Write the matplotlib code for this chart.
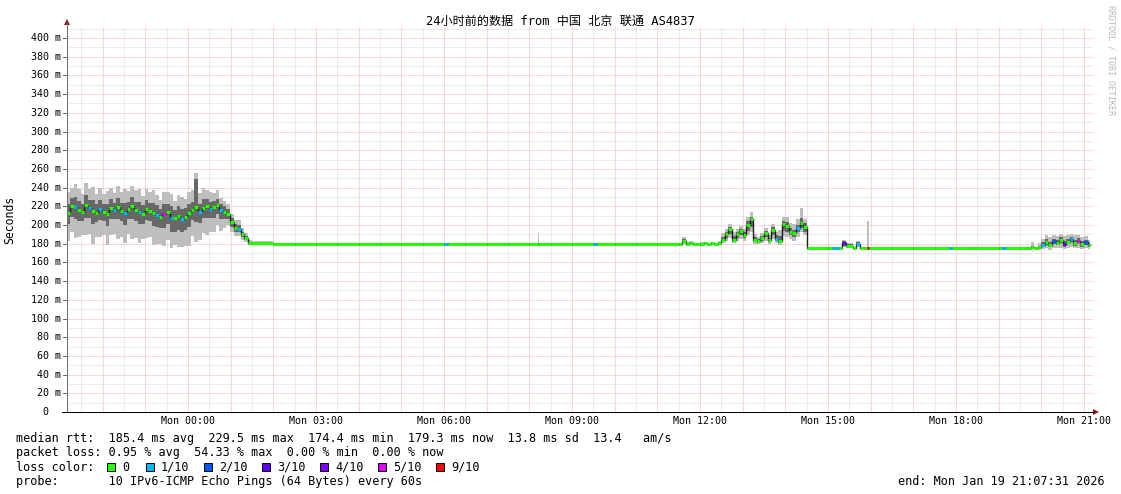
import matplotlib
matplotlib.use("Agg")
import matplotlib.pyplot as plt
import numpy as np
from matplotlib.patches import Rectangle, Polygon

# ---- data ----
# minutes relative to Mon 00:00 (start of each rrd row), 5 min rows where the
# trace is busy, sparser where it is flat
minutes = [
    -171, -166, -161, -156, -151, -146, -141, -136, -131, -126,
    -121, -116, -111, -106, -101, -96, -91, -86, -81, -76,
    -71, -66, -61, -56, -51, -46, -41, -36, -31, -26,
    -21, -16, -11, -6, -1, 4, 9, 14, 19, 24,
    29, 34, 39, 44, 49,
    54, 59, 64, 69, 74, 79, 84,
    90, 120, 150, 180, 210, 240, 270, 300, 330, 360,
    365, 390, 420, 450, 480, 492, 494, 510, 540, 570,
    575, 600, 630, 660, 690, 695, 700, 705, 710,
    715, 720, 725, 730, 735, 740, 745, 750, 755, 760,
    765, 770, 775, 780, 785, 790, 795, 800, 805, 810,
    815, 820, 825, 830, 835, 840, 845, 850, 855, 860, 865,
    870, 900, 905, 915, 920, 925, 935, 940, 945, 950,
    955, 957, 990, 1020, 1050, 1070, 1075, 1100, 1140, 1145,
    1150, 1170, 1180, 1185, 1190,
    1195, 1200, 1205, 1210, 1215, 1220, 1225, 1230, 1235, 1240,
    1245, 1250, 1255, 1260, 1265,
]
end_minute = 1268

# median rtt in ms
median_ms = [
    213, 220, 219, 216, 214, 221, 218, 215, 213, 217,
    214, 212, 218, 216, 219, 215, 213, 217, 220, 216,
    214, 212, 217, 215, 213, 211, 209, 212, 214, 208,
    207, 210, 206, 209, 213, 216, 219, 214, 218, 220,
    217, 219, 221, 216, 214,
    212, 203, 197, 196, 190, 186, 181,
    181, 180, 180, 180, 180, 180, 180, 180, 180, 180,
    180, 180, 180, 180, 180, 180, 180, 180, 180, 180,
    180, 180, 180, 180, 180, 183, 180, 181, 180,
    180, 180, 181, 180, 181, 180, 181, 184, 190, 196,
    184, 190, 194, 189, 200, 206, 184, 183, 186, 191,
    184, 195, 185, 183, 201, 199, 193, 191, 197, 202, 198,
    175, 175, 175, 175, 181, 178, 175, 180, 175, 175,
    175, 175, 175, 175, 175, 175, 175, 175, 175, 175,
    175, 175, 175, 176, 175,
    176, 179, 182, 179, 183, 181, 184, 180, 182, 185,
    181, 183, 180, 182, 179,
]

# smoke: how far the slowest / faster pings reach above and below the median (ms)
smoke_top = [
    22, 20, 25, 23, 19, 24, 21, 26, 20, 23,
    19, 24, 22, 18, 23, 20, 25, 19, 22, 21,
    24, 19, 22, 20, 24, 21, 18, 23, 21, 25,
    19, 22, 24, 19, 22, 21, 37, 20, 22, 17,
    18, 15, 16, 13, 12,
    10, 9, 8, 9, 7, 5, 3,
    2, 1, 1, 1, 1, 1, 1, 1, 1, 1,
    1, 1, 1, 1, 1, 11, 1, 1, 1, 1,
    1, 1, 1, 1, 1, 4, 2, 2, 1,
    1, 2, 1, 1, 1, 1, 2, 7, 6, 5,
    8, 6, 5, 7, 9, 8, 6, 4, 5, 6,
    5, 6, 8, 12, 8, 10, 9, 10, 9, 16, 8,
    1, 1, 1, 1, 3, 3, 1, 3, 1, 1,
    29, 1, 1, 1, 1, 1, 1, 1, 1, 1,
    1, 1, 1, 6, 1,
    5, 6, 7, 8, 6, 7, 6, 8, 7, 5,
    8, 6, 7, 6, 5,
]
smoke_upper = [
    10, 9, 11, 10, 8, 11, 9, 12, 9, 10,
    8, 11, 10, 8, 10, 9, 11, 8, 10, 9,
    11, 9, 10, 9, 11, 10, 8, 11, 9, 12,
    9, 10, 11, 9, 10, 9, 30, 9, 10, 8,
    8, 7, 7, 6, 6,
    5, 5, 4, 4, 3, 2, 1,
    1, 1, 1, 1, 1, 1, 1, 1, 1, 1,
    1, 1, 1, 1, 1, 1, 1, 1, 1, 1,
    1, 1, 1, 1, 1, 2, 1, 1, 1,
    1, 1, 1, 1, 1, 1, 1, 3, 3, 2,
    4, 3, 2, 3, 4, 3, 3, 2, 2, 3,
    2, 3, 4, 5, 3, 4, 4, 4, 3, 6, 4,
    1, 1, 1, 1, 2, 2, 1, 2, 1, 1,
    1, 1, 1, 1, 1, 1, 1, 1, 1, 1,
    1, 1, 1, 2, 1,
    2, 3, 3, 3, 2, 3, 3, 3, 3, 2,
    3, 3, 3, 2, 2,
]
smoke_lower = [
    12, 11, 13, 12, 10, 13, 11, 14, 10, 12,
    10, 13, 12, 10, 13, 11, 13, 11, 14, 12,
    13, 11, 12, 11, 14, 13, 12, 15, 13, 16,
    14, 15, 13, 14, 15, 11, 16, 12, 11, 12,
    10, 11, 9, 10, 8,
    6, 5, 5, 4, 3, 2, 1,
    1, 1, 1, 1, 1, 1, 1, 1, 1, 1,
    1, 1, 1, 1, 1, 1, 1, 1, 1, 1,
    1, 1, 1, 1, 1, 2, 1, 1, 1,
    1, 1, 1, 1, 1, 1, 1, 2, 4, 6,
    2, 4, 5, 3, 6, 8, 2, 2, 3, 4,
    2, 6, 2, 2, 7, 6, 4, 4, 5, 5, 5,
    1, 1, 1, 1, 3, 2, 1, 2, 1, 1,
    1, 1, 1, 1, 1, 1, 1, 1, 1, 1,
    1, 1, 1, 1, 1,
    2, 3, 3, 3, 3, 2, 3, 3, 2, 3,
    3, 2, 3, 3, 2,
]
smoke_bottom = [
    30, 27, 33, 29, 25, 32, 28, 35, 26, 30,
    25, 33, 29, 26, 34, 28, 32, 27, 35, 30,
    33, 27, 31, 28, 34, 31, 29, 34, 30, 33,
    28, 34, 29, 31, 35, 28, 37, 30, 27, 31,
    24, 26, 21, 22, 17,
    12, 10, 9, 8, 6, 4, 2,
    2, 2, 2, 2, 2, 2, 2, 2, 2, 2,
    2, 2, 2, 2, 2, 2, 2, 2, 2, 2,
    2, 2, 2, 2, 2, 3, 2, 2, 2,
    2, 2, 2, 2, 2, 2, 2, 3, 7, 10,
    3, 7, 9, 6, 11, 14, 4, 3, 5, 8,
    4, 10, 4, 4, 13, 12, 8, 8, 10, 10, 9,
    1, 1, 1, 1, 5, 3, 1, 3, 1, 1,
    1, 1, 1, 1, 1, 1, 1, 1, 1, 1,
    1, 1, 1, 1, 1,
    3, 5, 7, 6, 8, 6, 9, 6, 7, 9,
    6, 8, 6, 7, 5,
]
# lost pings out of 10 for each row
loss_tenths = [
    0, 0, 1, 0, 0, 0, 1, 0, 0, 1,
    0, 0, 0, 1, 0, 0, 1, 0, 0, 0,
    1, 0, 0, 0, 0, 1, 0, 5, 0, 1,
    0, 0, 1, 0, 0, 0, 0, 1, 0, 0,
    1, 0, 0, 1, 0,
    0, 0, 0, 1, 0, 0, 0,
    0, 0, 0, 0, 0, 0, 0, 0, 0, 1,
    0, 0, 0, 0, 0, 0, 0, 0, 0, 1,
    0, 0, 0, 0, 0, 0, 0, 0, 0,
    0, 0, 0, 0, 0, 0, 0, 0, 0, 0,
    0, 0, 0, 0, 0, 0, 0, 0, 0, 0,
    0, 0, 1, 0, 0, 0, 0, 0, 1, 0, 0,
    0, 0, 1, 0, 3, 0, 0, 1, 0, 0,
    9, 0, 0, 0, 0, 1, 0, 0, 0, 1,
    0, 0, 0, 0, 0,
    0, 1, 0, 0, 2, 0, 0, 3, 0, 1,
    0, 5, 0, 2, 0,
]

loss_colors = {0: "#26ff00", 1: "#00b8ff", 2: "#0059ff", 3: "#5e00ff",
               4: "#7e00ff", 5: "#dd00ff", 9: "#ff0000"}
legend_loss = [0, 1, 2, 3, 4, 5, 9]
legend_names = ["0", "1/10", "2/10", "3/10", "4/10", "5/10", "9/10"]

x_tick_minutes = [0, 180, 360, 540, 720, 900, 1080, 1260]
x_tick_labels = ["Mon 00:00", "Mon 03:00", "Mon 06:00", "Mon 09:00",
                 "Mon 12:00", "Mon 15:00", "Mon 18:00", "Mon 21:00"]
y_tick_values = list(range(0, 401, 20))

title = "24小时前的数据 from 中国 北京 联通 AS4837"
stats_rtt = "median rtt:  185.4 ms avg  229.5 ms max  174.4 ms min  179.3 ms now  13.8 ms sd  13.4   am/s"
stats_loss = "packet loss: 0.95 % avg  54.33 % max  0.00 % min  0.00 % now"
probe_line = "probe:       10 IPv6-ICMP Echo Pings (64 Bytes) every 60s"
end_line = "end: Mon Jan 19 21:07:31 2026"

n = len(minutes)
assert all(len(a) == n for a in (median_ms, smoke_top, smoke_upper,
                                  smoke_lower, smoke_bottom, loss_tenths))

# ---- layout (pixels) ----
W, H = 1121, 494
PL, PR, PT, PB = 67, 1093, 27, 412
XMIN, XMAX = -170.2, 1272.7
YMAX = 411.8
MONO = "DejaVu Sans Mono"

fig = plt.figure(figsize=(W / 100, H / 100), dpi=100)
fig.patch.set_facecolor("white")
ax = fig.add_axes([PL / W, 1 - PB / H, (PR - PL) / W, (PB - PT) / H])
ax.set_xlim(XMIN, XMAX)
ax.set_ylim(0, YMAX)
ax.axis("off")

# faint dotted grid: red every hour / 20 ms, grey every half hour / 10 ms
dots = (0, (1, 1))
for m in range(-150, 1273, 30):
    col = "#f4b0b0" if m % 60 == 0 else "#dadada"
    ax.axvline(m, color=col, lw=0.72, ls=dots, zorder=0.5 if m % 60 == 0 else 0)
for v in range(10, 412, 10):
    col = "#f4b0b0" if v % 20 == 0 else "#dadada"
    ax.axhline(v, color=col, lw=0.72, ls=dots, zorder=0.5 if v % 20 == 0 else 0)

t = minutes + [end_minute]
med = np.array(median_ms + [median_ms[-1]], dtype=float)
top = np.array(smoke_top + [smoke_top[-1]])
upp = np.array(smoke_upper + [smoke_upper[-1]])
low = np.array(smoke_lower + [smoke_lower[-1]])
bot = np.array(smoke_bottom + [smoke_bottom[-1]])

ax.fill_between(t, med - bot, med + top, step="post", color="#bebebe", lw=0, zorder=1)
ax.fill_between(t, med - low, med + upp, step="post", color="#686868", lw=0, zorder=2)
ax.step(t, med, where="post", color="#1c1c1c", lw=1.0, zorder=3)
for i in range(n):
    ax.hlines(median_ms[i], t[i], t[i + 1], color=loss_colors[loss_tenths[i]],
              lw=2.2, zorder=4)

# ---- overlay in pixel coordinates for axes, labels and legend ----
ov = fig.add_axes([0, 0, 1, 1])
ov.set_xlim(0, W)
ov.set_ylim(H, 0)
ov.axis("off")
ov.patch.set_alpha(0)

ov.plot([PL, PL], [PB, 23], color="#707070", lw=0.72)
ov.plot([62, 1094], [PB, PB], color="black", lw=0.72)
ov.add_patch(Polygon([(64, 25), (70, 25), (67, 19)], closed=True, color="#8b1a1a", lw=0))
ov.add_patch(Polygon([(1093, 409), (1093, 415), (1099, 412)], closed=True, color="#8b1a1a", lw=0))

px_per_ms = (PB - PT) / YMAX
for v in y_tick_values:
    y = PB - v * px_per_ms
    if v:
        ov.plot([63, PL], [y, y], color="#707070", lw=0.72)
        ov.text(61, y, f"{v} m", ha="right", va="center", fontsize=7.2, family=MONO)
    else:
        ov.text(48, y, "0", ha="right", va="center", fontsize=7.2, family=MONO)

px_per_min = (PR - PL) / (XMAX - XMIN)
for m, lab in zip(x_tick_minutes, x_tick_labels):
    x = PL + (m - XMIN) * px_per_min
    ov.text(x, 421, lab, ha="center", va="center", fontsize=7.2, family=MONO)

ov.text(560, 21, title, ha="center", va="center", fontsize=8.7,
        family=[MONO, "Noto Sans CJK SC"])
ov.text(10, (PT + PB) / 2, "Seconds", rotation=90, ha="center", va="center",
        fontsize=8.3, family=MONO)
ov.text(1111, 5, "RRDTOOL / TOBI OETIKER", rotation=270, ha="center", va="top",
        fontsize=6, family=MONO, color="#b8b8b8")

ov.text(16, 438, stats_rtt, ha="left", va="center", fontsize=8.5, family=MONO)
ov.text(16, 452.5, stats_loss, ha="left", va="center", fontsize=8.5, family=MONO)
ov.text(16, 467, "loss color:", ha="left", va="center", fontsize=8.5, family=MONO)
box_x = [107, 145.5, 203.5, 262, 319.5, 378, 435.5]
for bx, k, name in zip(box_x, legend_loss, legend_names):
    ov.add_patch(Rectangle((bx, 463), 8, 8, facecolor=loss_colors[k],
                           edgecolor="black", lw=0.7))
    ov.text(bx + 15.5, 467, name, ha="left", va="center", fontsize=8.5, family=MONO)
ov.text(16, 481.5, probe_line, ha="left", va="center", fontsize=8.5, family=MONO)
ov.text(1105, 481.5, end_line, ha="right", va="center", fontsize=8.5, family=MONO)

fig.savefig("out.png", dpi=100)
